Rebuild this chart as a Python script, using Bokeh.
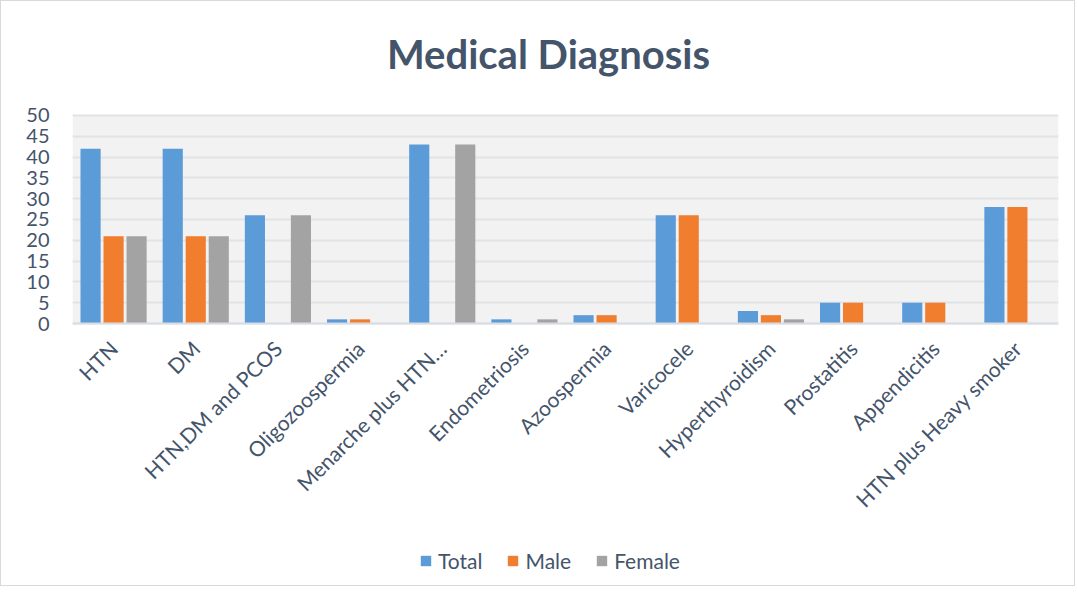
import math
from bokeh.plotting import figure
from bokeh.models import (FactorRange, Range1d, Legend, FixedTicker, ColumnDataSource,
                          BoxAnnotation, Label)
from bokeh.transform import dodge
from bokeh.embed import file_html
from bokeh.resources import INLINE

title_text = "Medical Diagnosis"
categories = ["HTN", "DM", "HTN,DM and PCOS", "Oligozoospermia", "Menarche plus HTN\u2026",
              "Endometriosis", "Azoospermia", "Varicocele", "Hyperthyroidism",
              "Prostatitis", "Appendicitis", "HTN plus Heavy smoker"]
total = [42, 42, 26, 1, 43, 1, 2, 26, 3, 5, 5, 28]
male = [21, 21, 0, 1, 0, 0, 2, 26, 2, 5, 5, 28]
female = [21, 21, 26, 0, 43, 1, 0, 0, 1, 0, 0, 0]
y_ticks = [0, 5, 10, 15, 20, 25, 30, 35, 40, 45, 50]

TEXT = "#44546A"
FONT = "Lato"

source = ColumnDataSource(dict(cat=categories, total=total, male=male, female=female))

# frame spans the full height; the value area (0..50) is shaded by a box annotation
p = figure(x_range=FactorRange(*categories), y_range=Range1d(-62.98, 75.48),
           frame_width=986, frame_height=576, output_backend="svg", toolbar_location=None,
           min_border_left=71, min_border_right=16, min_border_top=8, min_border_bottom=0)
p.styles = {"border": "1px solid #D9D9D9"}

plot_area = BoxAnnotation(bottom=0, top=50, fill_color="#F2F2F2", fill_alpha=1,
                          line_color=None, level="image")
p.add_layout(plot_area)

r1 = p.vbar(x=dodge('cat', -0.28, range=p.x_range), top='total', width=0.245, source=source,
            fill_color="#5B9BD8", line_color=None)
r2 = p.vbar(x=dodge('cat', 0.0, range=p.x_range), top='male', width=0.245, source=source,
            fill_color="#F07E2E", line_color=None)
r3 = p.vbar(x=dodge('cat', 0.28, range=p.x_range), top='female', width=0.245, source=source,
            fill_color="#A3A3A3", line_color=None)

p.background_fill_color = "white"
p.outline_line_color = None
p.xgrid.grid_line_color = None
p.ygrid.grid_line_color = "#DFE3E8"
p.ygrid.grid_line_width = 2

p.yaxis.ticker = FixedTicker(ticks=y_ticks)
p.yaxis.axis_line_color = None
p.yaxis.major_tick_line_color = None
p.yaxis.minor_tick_line_color = None
p.yaxis.major_label_standoff = 17
p.yaxis.major_label_text_font = FONT
p.yaxis.major_label_text_font_size = "20px"
p.yaxis.major_label_text_color = TEXT

p.xaxis.fixed_location = 0
p.xaxis.axis_line_color = "#D9DDE3"
p.xaxis.axis_line_width = 2
p.xaxis.major_tick_line_color = None
p.xaxis.minor_tick_line_color = None
p.xaxis.major_tick_out = 0
p.xaxis.major_label_orientation = math.pi / 4
p.xaxis.major_label_standoff = 21
p.xaxis.major_label_text_font = FONT
p.xaxis.major_label_text_font_size = "21px"
p.xaxis.major_label_text_color = TEXT

title = Label(text=title_text, x=476, y=532, x_units="screen", y_units="screen",
              text_align="center", text_baseline="alphabetic",
              text_font=FONT, text_font_style="bold", text_font_size="40px", text_color=TEXT)
p.add_layout(title)

legend = Legend(items=[("Total", [r1]), ("Male", [r2]), ("Female", [r3])],
                orientation="horizontal", location=(347, 12),
                glyph_width=13, glyph_height=13, label_standoff=6, spacing=24,
                padding=0, margin=0, border_line_color=None, background_fill_alpha=0,
                label_text_font=FONT, label_text_font_size="21px", label_text_color=TEXT)
p.add_layout(legend, "center")

open("out.html", "w").write(file_html(p, INLINE))
